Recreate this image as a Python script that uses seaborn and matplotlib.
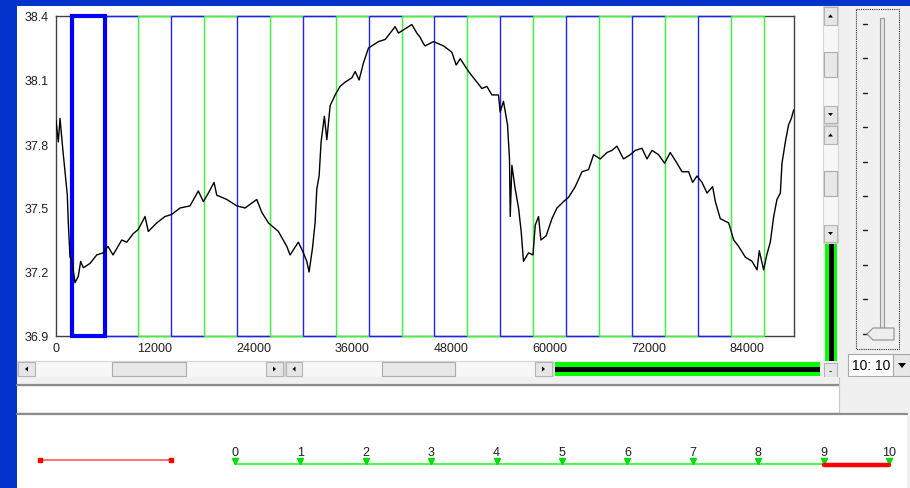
import numpy as np
import pandas as pd
import matplotlib
matplotlib.use('Agg')
import matplotlib.pyplot as plt
import seaborn as sns
from matplotlib.patches import Rectangle, Polygon

# temperature trace (time in s, temperature in degC)
time_s = [0, 280, 490, 815, 1095, 1375, 1495, 1700, 1910, 2310, 2710, 3000, 3320,
          4130, 4950, 5750, 6320, 6930, 7990, 8600, 9400, 10010, 10820, 11220,
          12240, 13250, 14070, 15080, 16290, 17300, 17910, 18520, 19210, 19540,
          20760, 21970, 22980, 24400, 25010, 25820, 27030, 28050, 28450, 29460,
          30070, 30480, 30760, 31170, 31490, 31700, 31980, 32220, 32620, 32920,
          33320, 33930, 34530, 35140, 35960, 36360, 36840, 37370, 37980, 38390,
          39190, 40010, 40610, 41220, 41620, 42440, 43250, 43860, 44260, 44660,
          44870, 45880, 47100, 48120, 48640, 49130, 50140, 50950, 51770, 52370,
          52980, 53780, 53990, 54390, 54880, 55120, 55210, 55410, 55810, 56220,
          56540, 56820, 57430, 57970, 58250, 58650, 58940, 59580, 60280, 60890,
          61690, 62300, 63110, 63930, 64730, 65340, 66150, 66970, 67570, 68180,
          68980, 69800, 70410, 71220, 71830, 72440, 73240, 73970, 74660, 75480,
          76090, 76890, 77380, 77910, 78520, 79130, 79810, 80140, 80740, 81760,
          82370, 82970, 83780, 84600, 85210, 85480, 86010, 86390, 86820, 87230,
          87630, 88040, 88240, 88650, 89040, 89380, 89660]
temp_c = [37.91, 37.81, 37.92, 37.78, 37.67, 37.56, 37.43, 37.27, 37.26, 37.15, 37.18, 37.25, 37.22,
          37.24, 37.28, 37.29, 37.32, 37.28, 37.35, 37.34, 37.38, 37.40, 37.46, 37.39,
          37.43, 37.46, 37.47, 37.50, 37.51, 37.58, 37.53, 37.57, 37.62, 37.56,
          37.54, 37.51, 37.50, 37.54, 37.48, 37.43, 37.39, 37.32, 37.28, 37.34,
          37.29, 37.25, 37.20, 37.31, 37.43, 37.59, 37.65, 37.81, 37.93, 37.82,
          37.98, 38.03, 38.07, 38.09, 38.11, 38.14, 38.10, 38.18, 38.25, 38.26,
          38.28, 38.29, 38.32, 38.35, 38.32, 38.34, 38.36, 38.32, 38.30, 38.27,
          38.26, 38.28, 38.26, 38.23, 38.17, 38.20, 38.14, 38.10, 38.06, 38.07,
          38.03, 38.03, 37.95, 38.00, 37.89, 37.73, 37.46, 37.70, 37.59, 37.50,
          37.39, 37.25, 37.29, 37.28, 37.42, 37.46, 37.35, 37.37, 37.45, 37.50,
          37.53, 37.55, 37.60, 37.67, 37.68, 37.75, 37.73, 37.76, 37.77, 37.79,
          37.73, 37.75, 37.77, 37.78, 37.73, 37.77, 37.75, 37.71, 37.76, 37.71,
          37.67, 37.67, 37.62, 37.65, 37.62, 37.57, 37.60, 37.53, 37.45, 37.43,
          37.35, 37.32, 37.27, 37.25, 37.21, 37.30, 37.21, 37.28, 37.34, 37.46,
          37.54, 37.57, 37.71, 37.81, 37.89, 37.92, 37.96]

band_edges = [2000, 6000, 10000, 14000, 18000, 22000, 26000, 30000, 34000, 38000, 42000,
              46000, 50000, 54000, 58000, 62000, 66000, 70000, 74000, 78000, 82000, 86000]
selected_band = 0
x_ticks = [0, 12000, 24000, 36000, 48000, 60000, 72000, 84000]
y_ticks = [36.9, 37.2, 37.5, 37.8, 38.1, 38.4]
x_max = 89700

ruler_marks = [0, 1, 2, 3, 4, 5, 6, 7, 8, 9, 10]
ruler_selected = [9, 10]
combo_text = '10: 10'

sns.set_style('white')
plt.rcParams['font.family'] = ['Liberation Sans', 'DejaVu Sans']

W, H = 910, 489
BLUE_BG = '#0433CC'
GRAY = '#F0F0F0'
BAND_BLUE = '#2020FF'
BAND_GREEN = '#30FF30'

fig = plt.figure(figsize=(W / 100, H / 100), dpi=100, facecolor=BLUE_BG)
bg = fig.add_axes([0, 0, 1, 1])
bg.set_xlim(0, W)
bg.set_ylim(H, 0)
bg.axis('off')


def box(x0, y0, x1, y1, fc, ec='none', lw=0.0, z=1, ls='-'):
    bg.add_patch(Rectangle((x0, y0), x1 - x0, y1 - y0, facecolor=fc, edgecolor=ec,
                           linewidth=lw, linestyle=ls, zorder=z))


def arrow_btn(x0, y0, x1, y1, d):
    box(x0, y0, x1, y1, '#E6E6E6', '#B4B4B4', 0.8, z=2)
    cx, cy = (x0 + x1) / 2, (y0 + y1) / 2
    s = 2.5
    if d == 'left':
        pts = [(cx + s * 0.6, cy - s), (cx + s * 0.6, cy + s), (cx - s * 0.6, cy)]
    elif d == 'right':
        pts = [(cx - s * 0.6, cy - s), (cx - s * 0.6, cy + s), (cx + s * 0.6, cy)]
    elif d == 'up':
        pts = [(cx - s, cy + s * 0.6), (cx + s, cy + s * 0.6), (cx, cy - s * 0.6)]
    else:
        pts = [(cx - s, cy - s * 0.6), (cx + s, cy - s * 0.6), (cx, cy + s * 0.6)]
    bg.add_patch(Polygon(pts, closed=True, facecolor='black', edgecolor='none', zorder=3))


# window body
box(17, 7, W, H, GRAY)
box(17, 7, 823, 362, 'white')

# horizontal scrollbars under the plot
box(17, 362, 284, 378, '#F7F7F7', '#D4D4D4', 0.8)
box(112, 363, 186, 377, '#E8E8E8', '#ADADAD', 0.8, z=2)
arrow_btn(18, 363, 35, 377, 'left')
arrow_btn(266, 363, 283, 377, 'right')
box(285, 362, 553, 378, '#F7F7F7', '#D4D4D4', 0.8)
box(382, 363, 455, 377, '#E8E8E8', '#ADADAD', 0.8, z=2)
arrow_btn(286, 363, 302, 377, 'left')
arrow_btn(535, 363, 552, 377, 'right')
box(555, 363, 820, 377, '#00FF00')
box(555, 368, 820, 373, 'black', z=2)

# vertical scrollbars right of the plot
box(823, 7, 838, 125, '#F7F7F7', '#D4D4D4', 0.8)
box(824, 53, 837, 78, '#E8E8E8', '#ADADAD', 0.8, z=2)
arrow_btn(824, 8, 837, 26, 'up')
arrow_btn(824, 107, 837, 124, 'down')
box(823, 126, 838, 244, '#F7F7F7', '#D4D4D4', 0.8)
box(824, 172, 837, 197, '#E8E8E8', '#ADADAD', 0.8, z=2)
arrow_btn(824, 127, 837, 145, 'up')
arrow_btn(824, 226, 837, 243, 'down')
box(825, 245, 837, 362, '#00FF00')
box(828.5, 245, 833.5, 362, 'black', z=2)
box(824, 364, 837, 378, '#E6E6E6', '#B4B4B4', 0.8)
bg.text(830.5, 371, '-', ha='center', va='center', fontsize=7, color='black', zorder=3)

# slider panel on the right
box(856, 10, 899, 350, 'none', '#303030', 0.8, z=2, ls=(0, (1, 1)))
box(880, 19, 884, 338, '#E4E4E4', '#9A9A9A', 0.8, z=2)
for k in range(10):
    ty = 25 + k * 34.4
    bg.plot([863, 867], [ty, ty], color='#202020', lw=1.0, zorder=3)
bg.add_patch(Polygon([(867, 335), (873, 329), (894, 329), (894, 341), (873, 341)], closed=True,
                     facecolor='#EEEEEE', edgecolor='#8C8C8C', linewidth=0.8, zorder=4))

# combo box
box(848, 355, 893, 377, 'white', '#A8A8A8', 0.8)
bg.text(852, 366.5, combo_text, ha='left', va='center', fontsize=10, color='black', zorder=3)
box(893, 355, 910, 377, '#E8E8E8', '#A8A8A8', 0.8)
bg.add_patch(Polygon([(898, 364), (906, 364), (902, 369)], closed=True,
                     facecolor='black', edgecolor='none', zorder=3))

# lower panels
box(17, 378, W, 415, GRAY)
bg.plot([17, 839], [386, 386], color='#8C8C8C', lw=1.6, zorder=2)
box(17, 388, 839, 413, 'white')
bg.plot([839, 839], [378, 414], color='#C8C8C8', lw=0.8, zorder=2)
bg.plot([17, 907], [414.5, 414.5], color='#8C8C8C', lw=1.6, zorder=2)
box(17, 416, 907, H, 'white')
bg.plot([40, 171], [461, 461], color='#FF5A5A', lw=1.2, zorder=3,
        marker='s', ms=3, mfc='red', mec='red')

# main temperature plot
ax = fig.add_axes([56 / W, (H - 337) / H, 738 / W, 320 / H])
ax.set_facecolor('white')
df = pd.DataFrame({'time': time_s, 'temp': temp_c})
sns.lineplot(data=df, x='time', y='temp', color='black', linewidth=1.0,
             estimator=None, sort=False, ax=ax, zorder=5)

# alternating bands: each shared edge takes the colour of the band that starts there
y0, y1 = y_ticks[0], y_ticks[-1]
n_bands = len(band_edges) - 1
band_cols = [BAND_BLUE if i % 2 else BAND_GREEN for i in range(n_bands)]
for i in range(n_bands):
    ax.hlines([y0, y1], band_edges[i], band_edges[i + 1], colors=band_cols[i],
              linewidth=1.0, clip_on=False, zorder=3)
for j in range(1, len(band_edges)):
    c = band_cols[min(j, n_bands - 1)]
    ax.vlines(band_edges[j], y0, y1, colors=c, linewidth=1.0, clip_on=False, zorder=3)
s = selected_band
ax.add_patch(Rectangle((band_edges[s], y0), band_edges[s + 1] - band_edges[s], y1 - y0,
                       fill=False, edgecolor='#0000FF', linewidth=3.0, clip_on=False, zorder=4))

ax.set_xlim(0, x_max)
ax.set_ylim(y0, y1)
ax.set_xticks(x_ticks)
ax.set_yticks(y_ticks)
ax.set_yticklabels([f'{v:.1f}' for v in y_ticks])
ax.set_xlabel('')
ax.set_ylabel('')
ax.tick_params(direction='in', length=3, width=0.8, color='#303030', labelcolor='#202020',
               labelsize=9)
ax.tick_params(axis='y', pad=5)
ax.tick_params(axis='x', pad=4)
for sp in ax.spines.values():
    sp.set_color('#404040')
    sp.set_linewidth(1.0)
    sp.set_zorder(2)

# bottom ruler
rax = fig.add_axes([235 / W, (H - 480) / H, 654 / W, 40 / H])
rax.set_xlim(ruler_marks[0], ruler_marks[-1])
rax.set_ylim(40, 0)
rax.axis('off')
rax.plot([ruler_marks[0], ruler_marks[-1]], [25, 25], color='#22FF22', lw=1.2, clip_on=False)
rax.plot(ruler_marks, [21.5] * len(ruler_marks), ls='none', marker='v', ms=4.5,
         color='#00DD00', clip_on=False)
for m in ruler_marks:
    rax.text(m, 13, str(m), ha='center', va='center', fontsize=9, color='#202020')
rax.plot(ruler_selected, [25.5, 25.5], color='#FF0000', lw=3.2, solid_capstyle='round',
         clip_on=False, zorder=4)

fig.savefig('out.png', dpi=100, facecolor=BLUE_BG)
